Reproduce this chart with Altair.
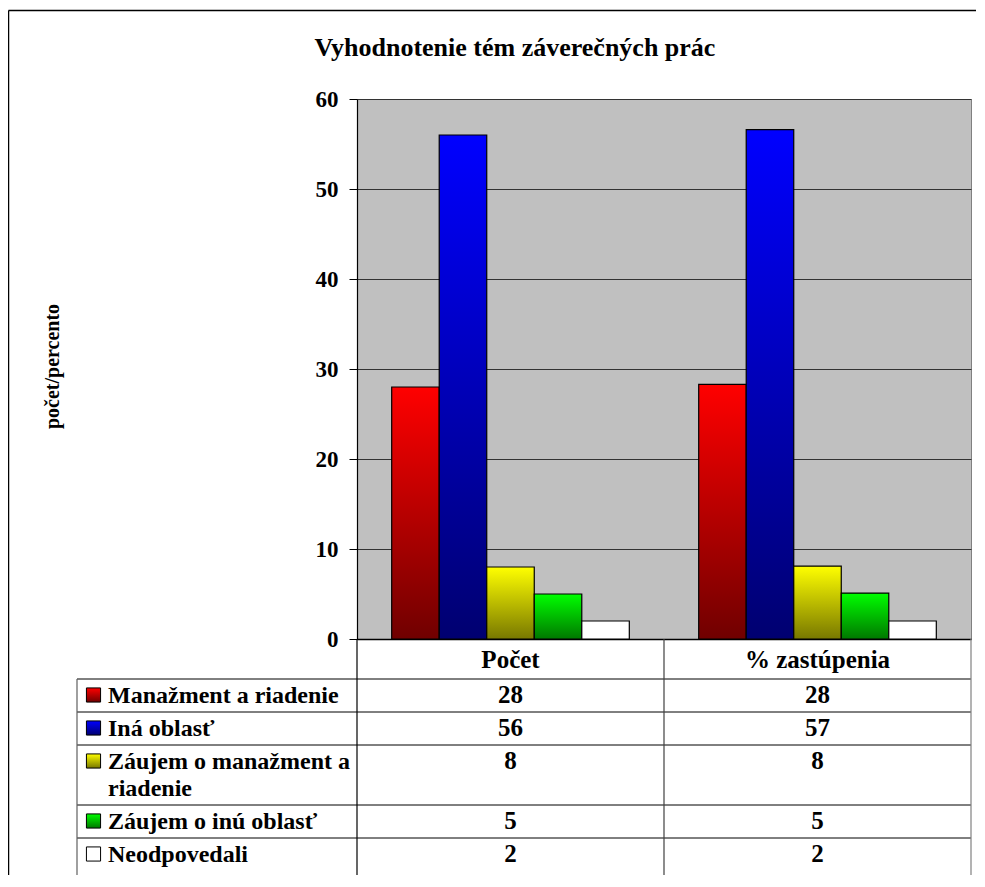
import altair as alt
import pandas as pd

# ---------------- data ----------------
categories = ["Počet", "% zastúpenia"]
series = [
    "Manažment a riadenie",
    "Iná oblasť",
    "Záujem o manažment a riadenie",
    "Záujem o inú oblasť",
    "Neodpovedali",
]
table_labels = [
    "Manažment a riadenie",
    "Iná oblasť",
    "Záujem o manažment a\nriadenie",
    "Záujem o inú oblasť",
    "Neodpovedali",
]
pocet = [28, 56, 8, 5, 2]
zastupenie = [28.3, 56.6, 8.1, 5.1, 2.0]
y_ticks = [0, 10, 20, 30, 40, 50, 60]
chart_title = "Vyhodnotenie tém záverečných prác"
y_title = "počet/percento"

# ---------------- style ----------------
FONT = "Liberation Serif"
top_colors = ["#FF0000", "#0000FF", "#FFFF00", "#00FF00", "#FFFFFF"]
bottom_colors = ["#700000", "#000070", "#787800", "#007800", "#FFFFFF"]
W, H = 614, 540
HEADER_H = 40
ROW_PAD, LINE_H = 6, 27
TXT = 25
LBL = 24


def grad(i):
    if top_colors[i] == bottom_colors[i]:
        return top_colors[i]
    return {
        "gradient": "linear", "x1": 0, "y1": 0, "x2": 0, "y2": 1,
        "stops": [{"offset": 0, "color": top_colors[i]},
                  {"offset": 1, "color": bottom_colors[i]}],
    }


# ---------------- tables ----------------
bars = pd.DataFrame([
    {"category": c, "series": s, "value": v}
    for c, vals in zip(categories, [pocet, zastupenie])
    for s, v in zip(series, vals)
])

rows = []
top = H + HEADER_H
for s, lab in zip(series, table_labels):
    lines = lab.count("\n") + 1
    h = ROW_PAD + LINE_H * lines
    rows.append({"series": s, "label": lab, "top": top, "bottom": top + h,
                 "center": top + 16, "base": top + 24})
    top += h
layout = pd.DataFrame(rows)
cells = bars.merge(layout, on="series")
header = pd.DataFrame({"category": categories, "base": [H + 29] * len(categories)})
# row separators (the last row runs off the bottom edge, as in the original)
bounds = pd.DataFrame({"yb": [H + HEADER_H] + list(layout["bottom"])[:-1]})

# ---------------- encodings ----------------
x_enc = alt.X(
    "category:N",
    scale=alt.Scale(domain=categories, paddingInner=0.226, paddingOuter=0.113),
    axis=alt.Axis(labels=False, ticks=False, title=None, grid=False,
                  domainColor="black", domainWidth=1.5),
)
y_enc = alt.Y(
    "value:Q",
    scale=alt.Scale(domain=[0, 60]),
    axis=alt.Axis(
        values=y_ticks, grid=True, gridColor="#333333", gridWidth=1,
        domainColor="black", domainWidth=1.2, tickColor="black", tickSize=8,
        labelFont=FONT, labelFontSize=23, labelFontWeight="bold",
        labelColor="black", labelPadding=11, labelFlush=False,
        title=y_title, titleFont=FONT, titleFontSize=20, titleFontWeight="bold",
        titleColor="black", titleAngle=-90, titleX=-305, titleY=267,
        titleAlign="center", titleBaseline="middle",
    ),
)
xo_enc = alt.XOffset("series:N", scale=alt.Scale(domain=series, paddingInner=0, paddingOuter=0))
tscale = alt.Scale(domain=[0, 1000], range=[0, 1000])

bar_layers = []
for i, s in enumerate(series):
    bar_layers.append(
        alt.Chart(bars).transform_filter(alt.datum.series == s)
        .mark_bar(fill=grad(i), stroke="black", strokeWidth=1.2)
        .encode(x=x_enc, xOffset=xo_enc, y=y_enc)
    )

title_layer = alt.Chart(pd.DataFrame({"t": [chart_title]})).mark_text(
    font=FONT, fontSize=26, fontWeight="bold", color="black",
    align="center", baseline="alphabetic",
).encode(text="t:N", x=alt.value(158), y=alt.value(-43))

bar_part = alt.layer(*bar_layers, title_layer)

# table parts
dummy = pd.DataFrame({"d": [0]})
table_layers = []
table_layers.append(
    alt.Chart(bounds).mark_rule(color="black", strokeWidth=1).encode(
        y=alt.Y("yb:Q", scale=tscale, axis=None),
        x=alt.value(-280), x2=alt.value(W))
)
for xv, y0, col in [(-280, H + HEADER_H, "#606060"), (0, H, "black"),
                    (W / 2, H, "#404040"), (W, H, "#808080")]:
    table_layers.append(
        alt.Chart(dummy).mark_rule(color=col, strokeWidth=1.2).encode(
            x=alt.value(xv), y=alt.value(y0), y2=alt.value(1000))
    )
# outer chart border
table_layers.append(
    alt.Chart(dummy).mark_rule(color="black", strokeWidth=1.5).encode(
        x=alt.value(-348.5), y=alt.value(-88.5), y2=alt.value(1000))
)
table_layers.append(
    alt.Chart(dummy).mark_rule(color="black", strokeWidth=1.5).encode(
        x=alt.value(-348.5), x2=alt.value(W + 20), y=alt.value(-88.5))
)
table_layers.append(
    alt.Chart(header).mark_text(font=FONT, fontSize=TXT, fontWeight="bold",
                                color="black", align="center", baseline="alphabetic")
    .encode(x=x_enc, y=alt.Y("base:Q", scale=tscale, axis=None), text="category:N")
)
table_layers.append(
    alt.Chart(cells).mark_text(font=FONT, fontSize=TXT, fontWeight="bold",
                               color="black", align="center", baseline="alphabetic")
    .encode(x=x_enc, y=alt.Y("base:Q", scale=tscale, axis=None),
            text=alt.Text("value:Q", format=".0f"))
)
table_layers.append(
    alt.Chart(layout).mark_text(font=FONT, fontSize=LBL, fontWeight="bold",
                                color="black", align="left", baseline="alphabetic",
                                lineBreak="\n", lineHeight=LINE_H)
    .encode(x=alt.value(-249), y=alt.Y("base:Q", scale=tscale, axis=None), text="label:N")
)
for i, s in enumerate(series):
    table_layers.append(
        alt.Chart(layout).transform_filter(alt.datum.series == s)
        .mark_square(size=200, filled=True, fill=grad(i), stroke="black",
                     strokeWidth=1, opacity=1)
        .encode(x=alt.value(-263.5), y=alt.Y("center:Q", scale=tscale, axis=None))
    )

table_part = alt.layer(*table_layers)

chart = (
    alt.layer(bar_part, table_part)
    .resolve_scale(y="independent")
    .properties(
        width=W, height=H,
        autosize=alt.AutoSizeParams(type="none"),
        padding={"left": 349, "top": 91, "right": 5, "bottom": 236},
        background="white",
    )
    .configure_view(fill="#C0C0C0", stroke="#808080", strokeWidth=1)
)

chart.save("out.html", embed_options={"renderer": "svg", "actions": False})
